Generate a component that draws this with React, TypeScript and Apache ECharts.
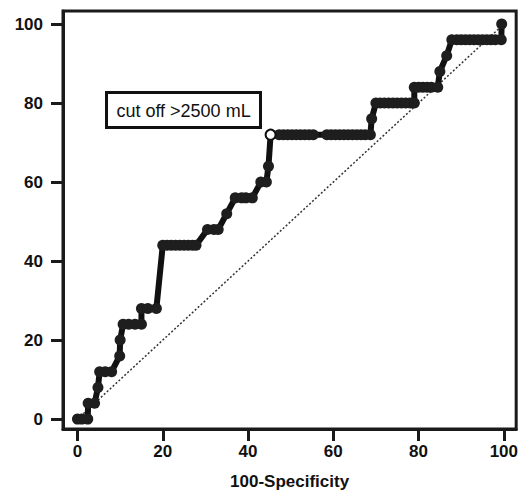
import React, { useEffect, useRef } from "react";
import * as echarts from "echarts";

// ROC curve points: 100-Specificity (x) and Sensitivity (y)
const specX: number[] = [
  0, 1, 2.4,
  2.5, 4,
  4.8,
  5.2, 6.5, 8,
  9.9,
  10,
  10.7, 12, 13.5, 15,
  15, 16.5, 18.5,
  20, 21, 22, 23, 24, 25, 26, 27, 27.8,
  30.5, 32, 33,
  35,
  37, 38.5, 39.5, 41,
  43, 44.3,
  44.8,
  45.3, 47.3, 48.3, 49.3, 50.3, 51.3, 52.3, 53.3, 54.3, 55.3,
  58.5, 59.5, 60.5, 61.5, 62.5, 63.5, 64.5, 65.5, 66.5, 67.5, 68.7,
  69,
  70, 71, 72, 73, 74, 75, 76, 77, 78, 79,
  79, 80, 81, 82, 83, 84.5,
  85,
  86.6,
  87.8, 89, 90, 91, 92, 93, 94, 95, 96, 97, 98, 99.4,
  99.5,
];
const sensY: number[] = [
  0, 0, 0,
  4, 4,
  8,
  12, 12, 12,
  16,
  20,
  24, 24, 24, 24,
  28, 28, 28,
  44, 44, 44, 44, 44, 44, 44, 44, 44,
  48, 48, 48,
  52,
  56, 56, 56, 56,
  60, 60,
  64,
  72, 72, 72, 72, 72, 72, 72, 72, 72, 72,
  72, 72, 72, 72, 72, 72, 72, 72, 72, 72, 72,
  76,
  80, 80, 80, 80, 80, 80, 80, 80, 80, 80,
  84, 84, 84, 84, 84, 84,
  88,
  92,
  96, 96, 96, 96, 96, 96, 96, 96, 96, 96, 96, 96,
  100,
];
const cutoffPoint: number[] = [45.3, 72];
const diagonal: number[][] = [[0, 0], [100, 100]];
const tickValues: number[] = [0, 20, 40, 60, 80, 100];
const xTitle = "100-Specificity";
const annotation = "cut off >2500 mL";

export default function App() {
  const ref = useRef<HTMLDivElement>(null);
  useEffect(() => {
    if (!ref.current) return;
    const chart = echarts.init(ref.current, null, { renderer: "svg" });
    const font = "'Liberation Sans', Arial, sans-serif";
    const axisCommon = {
      axisLine: { show: true, onZero: false, lineStyle: { color: "#1a1a1a", width: 3 } },
      axisTick: { show: true, inside: false, length: 12, customValues: tickValues, lineStyle: { color: "#1a1a1a", width: 3 } },
      splitLine: { show: false },
    };
    chart.setOption({
      animation: false,
      backgroundColor: "#ffffff",
      grid: { left: 63, right: 3, top: 11, bottom: 65, show: true, borderColor: "#1a1a1a", borderWidth: 3, backgroundColor: "transparent" },
      xAxis: {
        type: "value",
        min: -3.4,
        max: 102.9,
        ...axisCommon,
        axisLabel: { customValues: tickValues, margin: 14, fontSize: 17, fontWeight: "bold", color: "#111", fontFamily: font },
        name: xTitle,
        nameLocation: "middle",
        nameGap: 44,
        nameTextStyle: { fontSize: 17, fontWeight: "bold", color: "#111", fontFamily: font },
      },
      yAxis: {
        type: "value",
        min: -2.5,
        max: 103.3,
        ...axisCommon,
        axisLabel: { customValues: tickValues, margin: 20, fontSize: 17, fontWeight: "bold", color: "#111", fontFamily: font },
      },
      series: [
        {
          type: "line",
          data: diagonal,
          symbol: "none",
          z: 1,
          silent: true,
          lineStyle: { color: "#333", width: 1.5, type: [2, 2] },
        },
        {
          type: "line",
          data: specX.map((x, i) => [x, sensY[i]]),
          symbol: "circle",
          symbolSize: 11,
          showAllSymbol: true,
          z: 2,
          silent: true,
          lineStyle: { color: "#111", width: 6 },
          itemStyle: { color: "#1e1e1e", opacity: 1 },
        },
        {
          type: "scatter",
          data: [cutoffPoint],
          symbol: "circle",
          symbolSize: 10,
          z: 3,
          silent: true,
          itemStyle: { color: "#ffffff", borderColor: "#111", borderWidth: 2, opacity: 1 },
        },
      ],
      graphic: [
        {
          type: "group",
          left: 105,
          top: 91,
          children: [
            { type: "rect", shape: { x: 0, y: 0, width: 154, height: 35 }, style: { fill: "#fff", stroke: "#111", lineWidth: 3 } },
            {
              type: "text",
              x: 77,
              y: 18,
              style: { text: annotation, fontSize: 18, fontFamily: font, fill: "#111", textAlign: "center", textVerticalAlign: "middle" },
            },
          ],
        },
      ],
    });
    return () => chart.dispose();
  }, []);
  return <div ref={ref} style={{ position: "absolute", left: 0, top: 0, width: 521, height: 495 }} />;
}
